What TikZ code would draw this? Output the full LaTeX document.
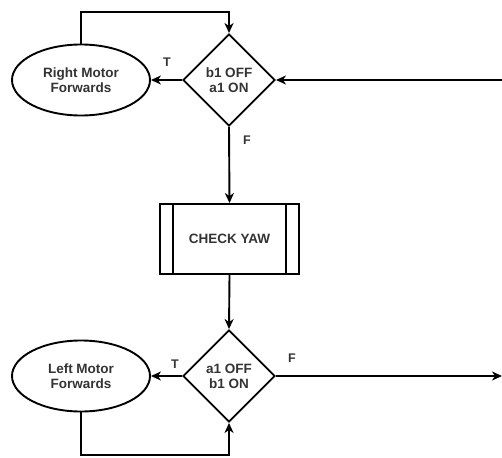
\documentclass[tikz,border=0pt]{standalone}
\usepackage{fontspec}
\setmainfont{Liberation Sans}
\usetikzlibrary{shapes.geometric,arrows.meta}

\begin{document}
\begin{tikzpicture}[
  x=1pt, y=-1pt,
  every node/.style={font=\fontsize{13.5}{15}\selectfont\bfseries, text=black!80},
  decision/.style={diamond,draw,line width=1.9pt,minimum width=92pt,minimum height=92pt,inner sep=0pt,align=center},
  action/.style={ellipse,draw,line width=1.9pt,minimum width=138pt,minimum height=71pt,inner sep=0pt,align=center},
  subproc/.style={rectangle,draw,line width=1.9pt,minimum width=139pt,minimum height=70pt},
  flow/.style={line width=1.9pt,-{Stealth[length=10pt,width=9pt,inset=3pt]}},
  branch/.style={font=\fontsize{12.5}{13}\selectfont\bfseries}
]
\useasboundingbox (0,0) rectangle (502,457);

% ------------------------------------------------------------
% Upper test and its action
% ------------------------------------------------------------
\node[decision] (d1) at (229,80) {b1 OFF\\a1 ON};
\node[action] (rm) at (81,80) {Right Motor\\Forwards};
\coordinate (loopT) at (150,12);
\coordinate (inR) at (503,80);

% ------------------------------------------------------------
% Yaw check (predefined process)
% ------------------------------------------------------------
\node[subproc] (yaw) at (229.5,239) {CHECK YAW};
\draw[line width=1.9pt] ([xshift=14pt]yaw.north west) -- ([xshift=14pt]yaw.south west);
\draw[line width=1.9pt] ([xshift=-14pt]yaw.north east) -- ([xshift=-14pt]yaw.south east);

% ------------------------------------------------------------
% Lower test and its action
% ------------------------------------------------------------
\node[decision] (d2) at (229,376) {a1 OFF\\b1 ON};
\node[action] (lm) at (81,376) {Left Motor\\Forwards};
\coordinate (loopB) at (150,455);
\coordinate (outR) at (502,376);

% ------------------------------------------------------------
% Connectors
% ------------------------------------------------------------
\draw[flow] (d1.west) -- (rm.east);
\draw[flow] (rm.north) -- (rm.north |- loopT) -| (d1.north);
\draw[flow] (inR) -- (d1.east);
\draw[flow] (d1.south) -- (yaw.north);
\draw[flow] (yaw.south) -- (d2.north);
\draw[flow] (d2.west) -- (lm.east);
\draw[flow] (lm.south) -- (lm.south |- loopB) -| (d2.south);
\draw[flow] (d2.east) -- (outR);

% branch labels
\node[branch] (t1) at (167,62) {T};
\node[branch] (f1) at (247,140) {F};
\node[branch] (t2) at (175,364) {T};
\node[branch] (f2) at (292,358) {F};

\end{tikzpicture}
\end{document}
